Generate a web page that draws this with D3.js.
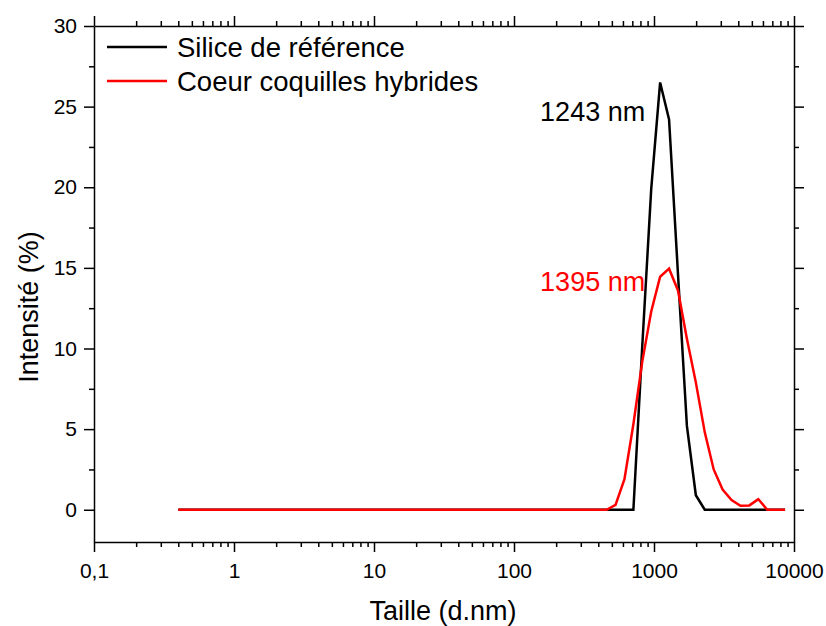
<!DOCTYPE html>
<html>
<head>
<meta charset="utf-8">
<script src="https://cdn.jsdelivr.net/npm/d3@7"></script>
<style>
  html, body { margin: 0; padding: 0; background: #fff; }
  svg { display: block; font-family: "Liberation Sans", Arial, sans-serif; }
</style>
</head>
<body>
<svg id="chart" width="826" height="626"></svg>
<script>
// ---- Data ----
const sizes = [0.4, 0.4632, 0.5365, 0.6213, 0.7195, 0.8332, 0.9649, 1.117, 1.294, 1.499,
  1.736, 2.010, 2.328, 2.696, 3.122, 3.615, 4.187, 4.849, 5.615, 6.503,
  7.531, 8.721, 10.10, 11.70, 13.54, 15.69, 18.17, 21.04, 24.36, 28.21,
  32.67, 37.84, 43.82, 50.75, 58.77, 68.06, 78.82, 91.28, 105.7, 122.4,
  141.8, 164.2, 190.1, 220.2, 255.0, 295.3, 342.0, 396.1, 458.7, 531.2,
  615.1, 712.4, 825.0, 955.4, 1106, 1281, 1484, 1718, 1990, 2305,
  2669, 3091, 3580, 4145, 4801, 5560, 6439, 7456, 8635];

const silice = [0, 0, 0, 0, 0, 0, 0, 0, 0, 0,
  0, 0, 0, 0, 0, 0, 0, 0, 0, 0,
  0, 0, 0, 0, 0, 0, 0, 0, 0, 0,
  0, 0, 0, 0, 0, 0, 0, 0, 0, 0,
  0, 0, 0, 0, 0, 0, 0, 0, 0, 0,
  0, 0, 10.2, 19.9, 26.5, 24.2, 14.6, 5.2, 0.9, 0,
  0, 0, 0, 0, 0, 0, 0, 0, 0];

const hybrides = [0, 0, 0, 0, 0, 0, 0, 0, 0, 0,
  0, 0, 0, 0, 0, 0, 0, 0, 0, 0,
  0, 0, 0, 0, 0, 0, 0, 0, 0, 0,
  0, 0, 0, 0, 0, 0, 0, 0, 0, 0,
  0, 0, 0, 0, 0, 0, 0, 0, 0, 0.3,
  1.9, 5.3, 9.2, 12.3, 14.45, 14.95, 13.6, 10.6, 7.9, 4.8,
  2.5, 1.25, 0.6, 0.25, 0.27, 0.66, 0, 0, 0];

const seriesNames = ["Silice de référence", "Coeur coquilles hybrides"];
const seriesColors = ["#000000", "#ff0000"];
const xTickValues = [0.1, 1, 10, 100, 1000, 10000];
const xTickLabels = ["0,1", "1", "10", "100", "1000", "10000"];
const yTickValues = [0, 5, 10, 15, 20, 25, 30];
const annotationTexts = ["1243 nm", "1395 nm"];
const annotationY = [24.1, 13.55];  // label baseline level in data units
const annotationXEnd = 865;         // labels end just left of the peak (data units)

// ---- Layout ----
const svg = d3.select("#chart");
const m = { left: 94, right: 794, top: 26, bottom: 542 };

const x = d3.scaleLog().domain([0.1, 10000]).range([m.left, m.right]);
const y = d3.scaleLinear().domain([-2, 30]).range([m.bottom, m.top]);

// minor ticks
const xMinor = [];
for (let e = -1; e < 4; e++) for (let k = 2; k <= 9; k++) xMinor.push(k * Math.pow(10, e));
const yMinor = [];
for (let v = 2.5; v < 30; v += 5) yMinor.push(v);

function styleAxis(g) {
  g.select(".domain").attr("stroke", "#000").attr("stroke-width", 1.5);
  g.selectAll(".tick line").attr("stroke", "#000").attr("stroke-width", 1.5);
  g.selectAll(".tick text").attr("fill", "#000").attr("font-size", 21)
    .attr("font-family", "'Liberation Sans', Arial, sans-serif");
}
function minorStyle(g) {
  g.select(".domain").remove();
  g.selectAll("line").attr("stroke", "#000").attr("stroke-width", 1.5);
}

// bottom axis
const gB = svg.append("g").attr("transform", `translate(0,${m.bottom})`)
  .call(d3.axisBottom(x).tickValues(xTickValues)
    .tickFormat((d, i) => xTickLabels[i]).tickSize(10).tickPadding(11).tickSizeOuter(0));
styleAxis(gB);
svg.append("g").attr("transform", `translate(0,${m.bottom})`)
  .call(d3.axisBottom(x).tickValues(xMinor).tickFormat("").tickSize(5).tickSizeOuter(0))
  .call(minorStyle);

// top axis (mirror)
const gT = svg.append("g").attr("transform", `translate(0,${m.top})`)
  .call(d3.axisTop(x).tickValues(xTickValues).tickFormat("").tickSize(10).tickSizeOuter(0));
styleAxis(gT);
svg.append("g").attr("transform", `translate(0,${m.top})`)
  .call(d3.axisTop(x).tickValues(xMinor).tickFormat("").tickSize(5).tickSizeOuter(0))
  .call(minorStyle);

// left axis
const gL = svg.append("g").attr("transform", `translate(${m.left},0)`)
  .call(d3.axisLeft(y).tickValues(yTickValues).tickSize(10).tickPadding(7).tickSizeOuter(0));
styleAxis(gL);
svg.append("g").attr("transform", `translate(${m.left},0)`)
  .call(d3.axisLeft(y).tickValues(yMinor).tickFormat("").tickSize(5).tickSizeOuter(0))
  .call(minorStyle);

// right axis (mirror)
const gR = svg.append("g").attr("transform", `translate(${m.right},0)`)
  .call(d3.axisRight(y).tickValues(yTickValues).tickFormat("").tickSize(10).tickSizeOuter(0));
styleAxis(gR);
svg.append("g").attr("transform", `translate(${m.right},0)`)
  .call(d3.axisRight(y).tickValues(yMinor).tickFormat("").tickSize(5).tickSizeOuter(0))
  .call(minorStyle);

// ---- Lines ----
const line = d3.line().x(d => x(d[0])).y(d => y(d[1]));
[silice, hybrides].forEach((vals, i) => {
  svg.append("path")
    .datum(sizes.map((s, j) => [s, vals[j]]))
    .attr("fill", "none")
    .attr("stroke", seriesColors[i])
    .attr("stroke-width", 2.5)
    .attr("stroke-linejoin", "miter")
    .attr("d", line);
});

// ---- Annotations ----
annotationTexts.forEach((t, i) => {
  svg.append("text")
    .attr("x", x(annotationXEnd))
    .attr("y", y(annotationY[i]))
    .attr("text-anchor", "end")
    .attr("font-size", 27)
    .attr("fill", seriesColors[i])
    .text(t);
});

// ---- Legend ----
const legend = svg.append("g");
seriesNames.forEach((name, i) => {
  const ly = 47 + i * 34;
  legend.append("line").attr("x1", 107).attr("x2", 167).attr("y1", ly).attr("y2", ly)
    .attr("stroke", seriesColors[i]).attr("stroke-width", 2.5);
  legend.append("text").attr("x", 177).attr("y", ly + 10)
    .attr("font-size", 27.5).attr("fill", "#000").text(name);
});

// ---- Axis titles ----
svg.append("text")
  .attr("x", (m.left + m.right) / 2 - 1).attr("y", 620)
  .attr("text-anchor", "middle").attr("font-size", 27).attr("fill", "#000")
  .text("Taille (d.nm)");
svg.append("text")
  .attr("transform", "translate(38,307) rotate(-90)")
  .attr("text-anchor", "middle").attr("font-size", 27).attr("fill", "#000")
  .text("Intensité (%)");
</script>
</body>
</html>
